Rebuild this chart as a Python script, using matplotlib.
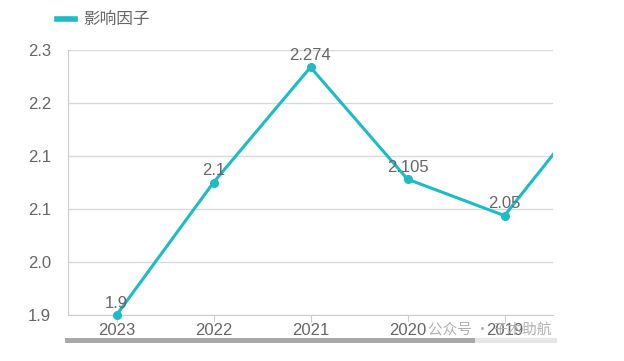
import matplotlib
matplotlib.use('Agg')
import matplotlib.pyplot as plt
from matplotlib.ticker import FixedLocator, FuncFormatter
from matplotlib.patches import Rectangle

# dados (eixo x invertido: mais recente primeiro)
anos = ['2023', '2022', '2021', '2020', '2019', '2018']
fator = [1.9, 2.1, 2.274, 2.105, 2.05, 2.234]
rotulos = ['1.9', '2.1', '2.274', '2.105', '2.05', '']
yticks = [1.9, 1.98, 2.06, 2.14, 2.22, 2.30]

cor = '#1bbcc4'
cinza = '#666666'
plt.rcParams['font.family'] = ['Liberation Sans', 'Noto Sans CJK SC', 'DejaVu Sans']

fig = plt.figure(figsize=(6.24, 3.61), dpi=100)
ax = fig.add_axes([68 / 624, 1 - 315 / 361, (553 - 68) / 624, (315 - 50) / 361])

x = list(range(len(anos)))
ax.plot(x, fator, color=cor, lw=2.2, zorder=3)
# pontos visiveis (sem recorte para o ponto na borda inferior)
ax.plot(x[:5], fator[:5], ls='none', marker='o', ms=5.5, color=cor, clip_on=False, zorder=4)
for xi, v, r in zip(x, fator, rotulos):
    if r:
        ax.annotate(r, (xi, v), xytext=(0, 3), textcoords='offset points',
                    ha='center', va='bottom', fontsize=12, color=cinza, zorder=5)

ax.set_xlim(-0.5, 4.5)
ax.set_ylim(1.9, 2.3)
ax.yaxis.set_major_locator(FixedLocator(yticks))
ax.yaxis.set_major_formatter(FuncFormatter(lambda v, p: f'{v:.1f}'))
ax.set_xticks(x[:5])
ax.set_xticklabels(anos[:5])
ax.grid(axis='y', color='#d9d9d9', lw=1)
ax.set_axisbelow(True)
for s in ['top', 'right']:
    ax.spines[s].set_visible(False)
for s in ['left', 'bottom']:
    ax.spines[s].set_color('#cccccc')
ax.tick_params(axis='y', length=0, pad=12, labelsize=12, labelcolor=cinza)
ax.tick_params(axis='x', length=5, color='#cccccc', pad=1, labelsize=12, labelcolor=cinza)

# legenda
fig.add_artist(plt.Line2D([57 / 624, 75 / 624], [1 - 19 / 361] * 2, color=cor, lw=4))
fig.text(83 / 624, 1 - 19 / 361, '影响因子', fontsize=12, color=cinza, va='center',
         family=['Noto Sans CJK SC', 'DejaVu Sans'])

# barra de rolagem
fig.add_artist(Rectangle((65 / 624, 1 - 343 / 361), (475 - 65) / 624, 5 / 361,
                         transform=fig.transFigure, color='#a8a8a8', lw=0))
fig.add_artist(Rectangle((475 / 624, 1 - 343 / 361), (557 - 475) / 624, 5 / 361,
                         transform=fig.transFigure, color='#e6e6e6', lw=0))

# marca d'agua
fig.text(428 / 624, 1 - 330 / 361, '公众号 · 子木助航', fontsize=10.5, color='#b0b0b0',
         va='center', family=['Noto Sans CJK SC', 'DejaVu Sans'])

fig.savefig('out.png', dpi=100)
